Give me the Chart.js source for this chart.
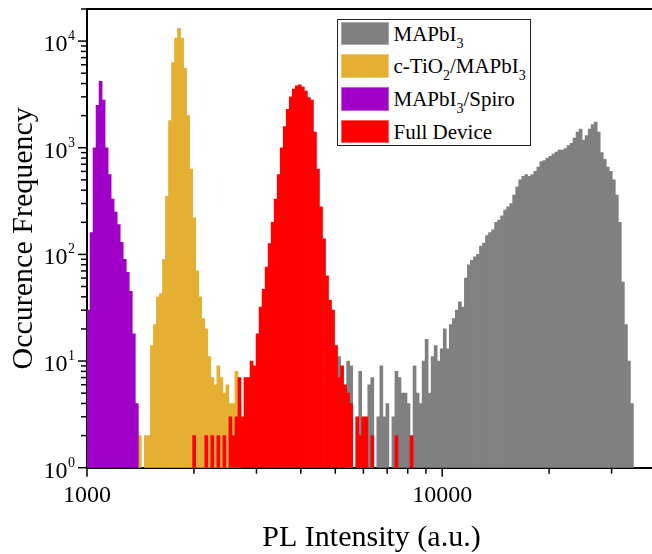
<!DOCTYPE html>
<html>
<head>
<meta charset="utf-8">
<script src="https://cdn.jsdelivr.net/npm/chart.js@4.4.0/dist/chart.umd.min.js"></script>
<style>
  html, body { margin: 0; padding: 0; background: #fff; overflow: hidden; }
  #wrap { position: relative; width: 652px; height: 554px; overflow: hidden; }
  #legend {
    position: absolute; left: 337px; top: 19px; width: 192px; height: 125px;
    border: 1.5px solid #222; background: #fff;
    font-family: 'Liberation Serif', serif; font-size: 21px; color: #000;
  }
  #legend .row { position: absolute; left: 2.5px; height: 24px; width: 185px; }
  #legend .sw { position: absolute; left: 0; top: 0; width: 46px; height: 21.5px; border: 1px solid; }
  #legend .lbl { position: absolute; left: 53px; top: 0; line-height: 24px; white-space: nowrap; }
  #legend sub { font-size: 14px; vertical-align: -7px; line-height: 0; }
</style>
</head>
<body>
<div id="wrap">
  <canvas id="chart" width="660" height="554"></canvas>
  <div id="legend"></div>
</div>
<script>
// histogram bins: equal width on the log axis, starting at 1000
const binStart = 1000;
const binLogWidth = 0.0085;

const xTickValues = [1000, 2000, 3000, 4000, 5000, 6000, 7000, 8000, 9000, 10000, 20000, 30000];
const xTickLabels = [1000, 10000];
const yTickValues = [1, 2, 3, 4, 5, 6, 7, 8, 9,
  10, 20, 30, 40, 50, 60, 70, 80, 90,
  100, 200, 300, 400, 500, 600, 700, 800, 900,
  1000, 2000, 3000, 4000, 5000, 6000, 7000, 8000, 9000,
  10000, 20000];
const yTickLabels = [1, 10, 100, 1000, 10000];

const seriesLabels = ['MAPbI₃', 'c-TiO₂/MAPbI₃', 'MAPbI₃/Spiro', 'Full Device'];
const seriesColors = ['#808080', '#e5b032', '#a000c8', '#ff0000'];
const seriesBorders = ['#a8a8a8', '#f0cc78', '#c060e0', '#ff6060'];

// counts per bin, first entry sits in bin number *FirstBin
const mapbiFirstBin = 83;
const mapbiCounts = [
  11, 0, 0, 10, 9, 0, 0, 8, 0, 0,
  6, 7, 0, 3, 9, 3, 4, 0, 3, 8,
  7, 5, 5, 4, 0, 9, 5, 4, 10, 16,
  5, 11, 14, 10, 13, 20, 13, 22, 25, 30,
  36, 32, 60, 80, 88, 95, 100, 120, 128, 150,
  160, 170, 200, 210, 230, 260, 280, 300, 360, 430,
  500, 540, 560, 540, 560, 600, 660, 740, 760, 800,
  830, 870, 910, 950, 950, 980, 1050, 1100, 1230, 1400,
  1500, 1180, 1300, 1500, 1650, 1740, 1400, 900, 780, 660,
  600, 500, 360, 200, 55, 22, 10, 4];

const tio2FirstBin = 17;
const tio2Counts = [
  2, 0, 2, 2, 14, 22, 40, 43, 90, 350,
  1800, 6300, 10700, 13200, 10700, 5600, 2000, 630, 220, 70,
  40, 25, 20, 11, 7, 6, 9, 7, 5, 6,
  4, 4, 8, 4];

const spiroFirstBin = 0;
const spiroCounts = [30, 160, 1000, 2500, 4200, 2800, 1000, 560, 330, 250, 190, 130, 90, 68, 45, 18, 4];

const deviceFirstBin = 35;
const deviceCounts = [
  2, 0, 0, 0, 2, 0, 2, 0, 2, 0,
  2, 0, 3, 2, 3, 7, 3, 7, 7, 10,
  9, 18, 32, 47, 76, 126, 200, 330, 560, 1000,
  1580, 2290, 3000, 3550, 3800, 3900, 3700, 3400, 2950, 2800,
  1400, 630, 280, 140, 63, 37, 30, 14, 7, 9,
  6, 5, 4, 0, 3, 2, 3, 3, 0, 2,
  0, 0, 0, 0, 0, 0, 0, 2, 0, 0,
  0, 0, 2];

function toPoints(firstBin, counts) {
  const pts = [];
  counts.forEach((c, k) => {
    if (c > 0) {
      pts.push({ x: binStart * Math.pow(10, (firstBin + k + 0.5) * binLogWidth), y: c });
    }
  });
  return pts;
}

const serif = "'Liberation Serif', serif";

const framePlugin = {
  id: 'frame',
  afterDraw(chart) {
    const { ctx, chartArea: a, scales: { x, y } } = chart;
    ctx.save();
    ctx.strokeStyle = '#000';
    ctx.lineWidth = 2;
    ctx.beginPath();
    ctx.moveTo(a.left - 1, a.top);
    ctx.lineTo(a.right, a.top);
    ctx.stroke();

    ctx.lineWidth = 1.5;
    xTickValues.forEach(v => {
      const px = x.getPixelForValue(v);
      const len = xTickLabels.includes(v) ? 9 : 6;
      ctx.beginPath();
      ctx.moveTo(px, a.bottom);
      ctx.lineTo(px, a.bottom + len);
      ctx.stroke();
    });
    yTickValues.forEach(v => {
      const py = y.getPixelForValue(v);
      const len = yTickLabels.includes(v) ? 9 : 6;
      ctx.beginPath();
      ctx.moveTo(a.left, py);
      ctx.lineTo(a.left - len, py);
      ctx.stroke();
    });

    // decade labels 10^n
    ctx.fillStyle = '#000';
    ctx.textAlign = 'right';
    ctx.textBaseline = 'alphabetic';
    yTickLabels.forEach(v => {
      const py = y.getPixelForValue(v);
      const exp = String(Math.round(Math.log10(v)));
      ctx.font = '14px ' + serif;
      ctx.fillText(exp, a.left - 12, py - 1);
      const w = ctx.measureText(exp).width;
      ctx.font = '24px ' + serif;
      ctx.fillText('10', a.left - 12 - w - 0.5, py + 10);
    });
    ctx.restore();
  }
};

const datasets = [
  { label: seriesLabels[0], data: toPoints(mapbiFirstBin, mapbiCounts), backgroundColor: seriesColors[0], order: 4 },
  { label: seriesLabels[1], data: toPoints(tio2FirstBin, tio2Counts), backgroundColor: seriesColors[1], order: 3 },
  { label: seriesLabels[2], data: toPoints(spiroFirstBin, spiroCounts), backgroundColor: seriesColors[2], order: 2 },
  { label: seriesLabels[3], data: toPoints(deviceFirstBin, deviceCounts), backgroundColor: seriesColors[3], order: 1 }
];

const chart = new Chart(document.getElementById('chart'), {
  type: 'bar',
  data: { datasets: datasets },
  options: {
    responsive: false,
    animation: false,
    layout: { padding: { top: 9, right: 4, left: 0, bottom: 0 } },
    datasets: {
      bar: { grouped: false, barPercentage: 1, categoryPercentage: 1, borderWidth: 0 }
    },
    plugins: {
      legend: { display: false },
      tooltip: { enabled: false }
    },
    scales: {
      x: {
        type: 'logarithmic',
        min: 1000,
        max: 40000,
        afterBuildTicks: s => { s.ticks = xTickValues.map(v => ({ value: v })); },
        afterFit: s => { s.height = 86.3; },
        grid: { display: false, drawTicks: false },
        border: { display: true, color: '#000', width: 2 },
        ticks: {
          autoSkip: false,
          maxRotation: 0,
          padding: 14,
          color: '#000',
          font: { family: serif, size: 24 },
          callback: v => xTickLabels.includes(v) ? String(v) : ''
        },
        title: {
          display: true,
          text: 'PL Intensity (a.u.)',
          color: '#000',
          font: { family: serif, size: 30 },
          padding: { top: 0, bottom: -2 }
        }
      },
      y: {
        type: 'logarithmic',
        min: 1,
        max: 20000,
        afterBuildTicks: s => { s.ticks = yTickValues.map(v => ({ value: v })); },
        afterFit: s => { s.width = 87; },
        grid: { display: false, drawTicks: false },
        border: { display: true, color: '#000', width: 2 },
        ticks: { display: false },
        title: {
          display: true,
          text: 'Occurence Frequency',
          color: '#000',
          font: { family: serif, size: 30 },
          padding: { top: 6, bottom: 0 }
        }
      }
    }
  },
  plugins: [framePlugin]
});

// legend box drawn as html so the chemical subscripts stay real text
const legend = document.getElementById('legend');
seriesLabels.forEach((name, i) => {
  const row = document.createElement('div');
  row.className = 'row';
  row.style.top = (1.8 + i * 32.6) + 'px';
  const sw = document.createElement('div');
  sw.className = 'sw';
  sw.style.background = seriesColors[i];
  sw.style.borderColor = seriesBorders[i];
  const lbl = document.createElement('div');
  lbl.className = 'lbl';
  lbl.innerHTML = name.replace(/₂/g, '<sub>2</sub>').replace(/₃/g, '<sub>3</sub>');
  row.appendChild(sw);
  row.appendChild(lbl);
  legend.appendChild(row);
});
</script>
</body>
</html>
